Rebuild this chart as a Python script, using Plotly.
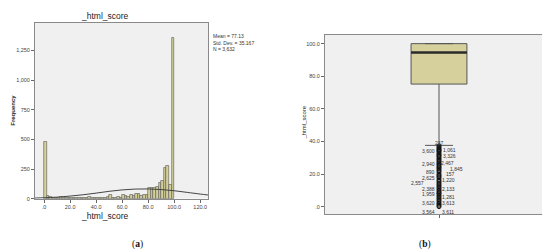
import plotly.graph_objects as go

# ---------------- data: histogram (a) ----------------
bin_centers = [1, 3, 5, 7, 9, 11, 13, 15, 17, 19, 21, 23, 25, 27, 29, 31, 33, 35, 37, 39,
               41, 43, 45, 47, 49, 51, 53, 55, 57, 59, 61, 63, 65, 67, 69, 71, 73, 75, 77, 79,
               81, 83, 85, 87, 89, 91, 93, 95, 97, 99]
bin_counts = [480, 20, 12, 10, 11, 9, 14, 8, 5, 4, 6, 5, 7, 8, 9, 5, 6, 12, 6, 8,
              9, 8, 10, 9, 12, 35, 10, 8, 15, 9, 30, 22, 15, 35, 25, 45, 45, 20, 30, 35,
              89, 89, 94, 100, 136, 150, 261, 275, 114, 1360]
curve_x = [-7, 0, 10, 20, 30, 40, 50, 60, 70, 80, 90, 100, 110, 120, 126]
curve_y = [5, 8, 13, 22, 33, 47, 62, 74, 81, 82, 77, 67, 53, 39, 31]
hist_xticks = [0, 20, 40, 60, 80, 100, 120]
hist_xticklabels = [".0", "20.0", "40.0", "60.0", "80.0", "100.0", "120.0"]
hist_yticks = [0, 250, 500, 750, 1000, 1250]
hist_yticklabels = ["0", "250", "500", "750", "1,000", "1,250"]
stats_lines = ["Mean = 77.13", "Std. Dev. = 35.167", "N = 3,632"]

# ---------------- data: boxplot (b) ----------------
box_q1 = 75.2
box_median = 94.5
box_q3 = 100.0
box_lowerfence = 37.6
box_upperfence = 100.0
outlier_values = [37.3, 36.5, 35.8, 35.0, 34.5, 33.9, 33.0, 32.2, 31.5, 30.9, 30.0, 29.2,
                  28.4, 27.5, 26.7, 26.1, 25.3, 24.5, 23.8, 23.0, 22.1, 21.2, 20.0, 19.2,
                  18.4, 17.6, 16.4, 15.5, 14.5, 13.6, 12.7, 11.8, 10.9, 10.0, 9.2, 8.4,
                  7.9, 7.0, 6.1, 5.2, 4.3, 3.4, 2.4, 1.6, 0.8, 0.0]
outlier_ids = ["237", "3,600", "1,061", "3,326", "2,940", "2,467", "1,845", "890", "157",
               "2,625", "1,220", "2,557", "2,388", "2,133", "1,959", "1,281", "3,620",
               "3,613", "3,564", "3,611"]
outlier_id_values = [38.8, 33.9, 34.5, 30.9, 26.1, 26.7, 23.0, 21.2, 20.0,
                     17.6, 16.4, 14.5, 10.9, 10.9, 7.9, 6.1, 2.4,
                     2.4, -3.0, -3.0]
box_yticks = [0, 20, 40, 60, 80, 100]
box_yticklabels = [".0", "20.0", "40.0", "60.0", "80.0", "100.0"]

# ---------------- styles ----------------
BAR_FILL = "#D5D099"
PLOT_BG = "#F0F0F0"
FRAME = "#8A8A8A"
TICKFONT = dict(family="Liberation Sans, Arial, sans-serif", size=5.5, color="#444444")
# label placement (x offset in axis units, anchor)
label_offsets = [(0.0, "center"), (-0.03, "right"), (0.03, "left"), (0.03, "left"),
                 (-0.03, "right"), (0.0, "left"), (0.16, "left"), (-0.03, "right"),
                 (0.09, "left"), (-0.03, "right"), (0.02, "left"), (-0.23, "right"),
                 (-0.03, "right"), (0.02, "left"), (-0.03, "right"), (0.02, "left"),
                 (-0.03, "right"), (0.02, "left"), (-0.03, "right"), (0.02, "left")]

fig = go.Figure()

# histogram bars
fig.add_trace(go.Bar(x=bin_centers, y=bin_counts, width=2,
                     marker=dict(color=BAR_FILL, line=dict(color="#555555", width=0.6)),
                     xaxis="x", yaxis="y", showlegend=False, hoverinfo="skip"))
# normal curve
fig.add_trace(go.Scatter(x=curve_x, y=curve_y, mode="lines", line_shape="spline",
                         line=dict(color="#444444", width=1),
                         xaxis="x", yaxis="y", showlegend=False, hoverinfo="skip"))

# boxplot
fig.add_trace(go.Box(x=[0], q1=[box_q1], median=[box_median], q3=[box_q3],
                     lowerfence=[box_lowerfence], upperfence=[box_upperfence],
                     width=0.98, whiskerwidth=0.5, boxpoints=False,
                     fillcolor="#D6D19C", line=dict(color="#555555", width=1),
                     xaxis="x2", yaxis="y2", showlegend=False, hoverinfo="skip"))
# thick median line
fig.add_trace(go.Scatter(x=[-0.49, 0.49], y=[box_median, box_median], mode="lines",
                         line=dict(color="#2b2b2b", width=2.5),
                         xaxis="x2", yaxis="y2", showlegend=False, hoverinfo="skip"))
# outliers
fig.add_trace(go.Scatter(x=[0] * len(outlier_values), y=outlier_values, mode="markers",
                         marker=dict(symbol="circle-open", size=4, color="#111111",
                                     line=dict(width=1)),
                         xaxis="x2", yaxis="y2", showlegend=False, hoverinfo="skip"))

annotations = []
for name, val, (dx, anchor) in zip(outlier_ids, outlier_id_values, label_offsets):
    annotations.append(dict(x=dx, y=val, xref="x2", yref="y2", text=name, showarrow=False,
                            xanchor=anchor, yanchor="middle",
                            font=dict(family="Liberation Sans, Arial, sans-serif", size=5,
                                      color="#333333")))

# texts
annotations += [
    dict(x=97 / 550, y=1 - 8 / 249, xref="paper", yref="paper", text="_html_score",
         showarrow=False, xanchor="center", yanchor="middle",
         font=dict(family="Liberation Sans, Arial, sans-serif", size=8.5, color="#222222")),
    dict(x=97 / 550, y=1 - 211 / 249, xref="paper", yref="paper", text="_html_score",
         showarrow=False, xanchor="center", yanchor="middle",
         font=dict(family="Liberation Sans, Arial, sans-serif", size=8.5, color="#222222")),
    dict(x=5 / 550, y=1 - 104 / 249, xref="paper", yref="paper", text="<b>Frequency</b>",
         showarrow=False, textangle=-90, xanchor="center", yanchor="middle",
         font=dict(family="Liberation Sans, Arial, sans-serif", size=6, color="#222222")),
    dict(x=296 / 550, y=1 - 116 / 249, xref="paper", yref="paper", text="_html_score",
         showarrow=False, textangle=-90, xanchor="center", yanchor="middle",
         font=dict(family="Liberation Sans, Arial, sans-serif", size=6, color="#222222")),
    dict(x=203 / 550, y=1 - 23 / 249, xref="paper", yref="paper",
         text="<br>".join(stats_lines), showarrow=False, xanchor="left", yanchor="top",
         align="left",
         font=dict(family="Liberation Sans, Arial, sans-serif", size=5, color="#333333")),
    dict(x=129 / 550, y=1 - 239 / 249, xref="paper", yref="paper", text="(<b>a</b>)",
         showarrow=False, xanchor="center", yanchor="middle", borderpad=0,
         font=dict(family="Liberation Serif, serif", size=9.5, color="#111111")),
    dict(x=417 / 550, y=1 - 239 / 249, xref="paper", yref="paper", text="(<b>b</b>)",
         showarrow=False, xanchor="center", yanchor="middle", borderpad=0,
         font=dict(family="Liberation Serif, serif", size=9.5, color="#111111")),
]

axis_common = dict(showgrid=False, zeroline=False, showline=True, mirror=True,
                   linecolor=FRAME, linewidth=1, ticks="outside", ticklen=3,
                   tickcolor="#666666", tickwidth=0.8, tickfont=TICKFONT)

fig.update_layout(
    width=550, height=249,
    margin=dict(l=0, r=0, t=0, b=0),
    paper_bgcolor="white", plot_bgcolor=PLOT_BG,
    bargap=0,
    xaxis=dict(domain=[27 / 550, 200 / 550], range=[-7, 126], anchor="y",
               tickvals=hist_xticks, ticktext=hist_xticklabels, **axis_common),
    yaxis=dict(domain=[1 - 193 / 249, 1 - 15 / 249], range=[0, 1483], anchor="x",
               tickvals=hist_yticks, ticktext=hist_yticklabels, **axis_common),
    xaxis2=dict(domain=[317 / 550, 545 / 550], range=[-2, 2], anchor="y2",
                tickvals=[0], ticktext=[""], **axis_common),
    yaxis2=dict(domain=[1 - 209 / 249, 1 - 27 / 249], range=[-4.8, 105.5], anchor="x2",
                tickvals=box_yticks, ticktext=box_yticklabels, **axis_common),
    annotations=annotations,
)

fig.write_html("out.html")
